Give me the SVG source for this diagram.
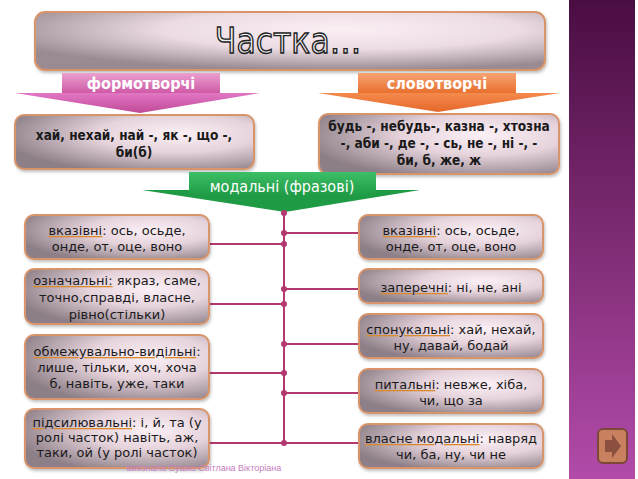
<svg xmlns="http://www.w3.org/2000/svg" width="638" height="479" viewBox="0 0 638 479">
<defs>
<radialGradient id="boxg" cx="0.68" cy="0.35" r="0.75">
<stop offset="0" stop-color="#fbf0f5"/>
<stop offset="0.45" stop-color="#e6d3dc"/>
<stop offset="1" stop-color="#8d7f87"/>
</radialGradient>
<radialGradient id="titleg" cx="0.6" cy="0.3" r="0.7">
<stop offset="0" stop-color="#fbeff4"/>
<stop offset="0.5" stop-color="#ecdbe3"/>
<stop offset="1" stop-color="#9a8b93"/>
</radialGradient>
<linearGradient id="panelg" x1="0" y1="0" x2="0" y2="1">
<stop offset="0" stop-color="#4a0d42"/>
<stop offset="0.5" stop-color="#7e2c74"/>
<stop offset="1" stop-color="#b24baa"/>
</linearGradient>
<linearGradient id="pinkb" x1="0" y1="0" x2="0" y2="1">
<stop offset="0" stop-color="#eaa0cf"/>
<stop offset="1" stop-color="#cf5aa6"/>
</linearGradient>
<linearGradient id="pinkt" x1="0" y1="0" x2="0" y2="1">
<stop offset="0" stop-color="#e277c4"/>
<stop offset="1" stop-color="#c04a98"/>
</linearGradient>
<linearGradient id="orb" x1="0" y1="0" x2="0" y2="1">
<stop offset="0" stop-color="#f7a274"/>
<stop offset="1" stop-color="#e8702e"/>
</linearGradient>
<linearGradient id="ort" x1="0" y1="0" x2="0" y2="1">
<stop offset="0" stop-color="#f48a4c"/>
<stop offset="1" stop-color="#e5672a"/>
</linearGradient>
<linearGradient id="grb" x1="0" y1="0" x2="0" y2="1">
<stop offset="0" stop-color="#3cbf66"/>
<stop offset="1" stop-color="#1f9a45"/>
</linearGradient>
<linearGradient id="titletxt" x1="0" y1="0" x2="0" y2="1">
<stop offset="0" stop-color="#ffffff"/>
<stop offset="1" stop-color="#d8d8d8"/>
</linearGradient>
<filter id="sh" x="-10%" y="-10%" width="120%" height="130%">
<feDropShadow dx="1" dy="2" stdDeviation="1.5" flood-color="#000" flood-opacity="0.25"/>
</filter>
</defs>
<style>
.box{fill:url(#boxg);stroke:#d9946a;stroke-width:2;filter:url(#sh)}
.t{font-family:"DejaVu Sans",Verdana,sans-serif;font-size:13px;fill:#1a1a1a;text-anchor:middle}
.tb{font-family:"DejaVu Sans Condensed","DejaVu Sans",sans-serif;font-size:13.5px;font-weight:bold;fill:#1a1a1a;text-anchor:middle}
.ban{font-family:"DejaVu Sans Condensed","DejaVu Sans",sans-serif;font-size:16px;fill:#ffffff;text-anchor:middle}
.k{text-decoration:underline;fill:#d9892e}
.k tspan{fill:#1a1a1a}
.cn{stroke:#b3386f;stroke-width:2;fill:none}
.dot{fill:#b3386f}
</style>
<rect x="0" y="0" width="638" height="479" fill="#ffffff"/>
<rect x="569" y="0" width="66" height="479" fill="url(#panelg)"/>
<g id="nav">
<rect x="598" y="429" width="29" height="34" rx="5" fill="#c9805e" stroke="#7b4838" stroke-width="2"/>
<path d="M605 440 H612 V434 L621 446 L612 458 V452 H605 Z" fill="#8b5040"/>
</g>

<g id="title">
<rect x="35" y="12" width="510" height="58" rx="10" fill="url(#titleg)" stroke="#d9946a" stroke-width="2" filter="url(#sh)"/>
<text x="288" y="53" font-family="'DejaVu Sans Condensed','DejaVu Sans',sans-serif" font-size="35" text-anchor="middle" fill="url(#titletxt)" stroke="#222" stroke-width="1.3">Частка…</text>
</g>

<g id="formotvorchi">
<polygon points="15,93 260,93 140,113" fill="url(#pinkt)"/>
<rect x="62" y="73" width="158" height="20" fill="url(#pinkb)"/>
<text class="ban" x="141" y="89" font-weight="bold">формотворчі</text>
</g>

<g id="slovotvorchi">
<polygon points="318,93 560,93 438,112" fill="url(#ort)"/>
<rect x="358" y="73" width="158" height="20" fill="url(#orb)"/>
<text class="ban" x="437" y="89" font-weight="bold">словотворчі</text>
</g>

<g id="box-formo">
<rect class="box" x="15" y="115" width="239" height="54" rx="9"/>
<text class="tb" x="134" y="140">хай, нехай, най -, як -, що -,</text>
<text class="tb" x="134" y="157">би(б)</text>
</g>

<g id="box-slovo">
<rect class="box" x="319" y="114" width="240" height="60" rx="9"/>
<text class="tb" x="439" y="131">будь -, небудь-, казна -, хтозна</text>
<text class="tb" x="439" y="148">-, аби -, де -, - сь, не -, ні -, -</text>
<text class="tb" x="439" y="165">би, б, же, ж</text>
</g>

<g id="modalni">
<polygon points="142,190 420,190 285,212" fill="#1f9a45"/>
<rect x="189" y="172" width="187" height="24" fill="url(#grb)"/>
<text class="ban" x="282" y="192">модальні (фразові)</text>
</g>

<g id="connectors">
<path class="cn" d="M284 213 V443"/>
<path class="cn" d="M209 244 H284 M209 304 H284 M209 373 H284 M209 443 H284"/>
<path class="cn" d="M284 233 H359 M284 289 H359 M284 344 H359 M284 393 H359 M284 443 H359"/>
<circle class="dot" cx="284" cy="213" r="3"/>
<circle class="dot" cx="284" cy="233" r="3"/>
<circle class="dot" cx="284" cy="244" r="3"/>
<circle class="dot" cx="284" cy="289" r="3"/>
<circle class="dot" cx="284" cy="304" r="3"/>
<circle class="dot" cx="284" cy="344" r="3"/>
<circle class="dot" cx="284" cy="373" r="3"/>
<circle class="dot" cx="284" cy="393" r="3"/>
<circle class="dot" cx="284" cy="443" r="3"/>
</g>

<g id="l1">
<rect class="box" x="25" y="215" width="184" height="44" rx="9"/>
<text class="t" x="117" y="235"><tspan class="k"><tspan>вказівні</tspan></tspan>: ось, осьде,</text>
<text class="t" x="117" y="251">онде, от, оце, воно</text>
</g>
<g id="l2">
<rect class="box" x="25" y="269" width="184" height="55" rx="9"/>
<text class="t" x="117" y="285"><tspan class="k"><tspan>означальні:</tspan></tspan> якраз, саме,</text>
<text class="t" x="117" y="302">точно,справді, власне,</text>
<text class="t" x="117" y="319">рівно(стільки)</text>
</g>
<g id="l3">
<rect class="box" x="25" y="335" width="184" height="64" rx="9"/>
<text class="t" x="117" y="356"><tspan class="k"><tspan>обмежувально-видільні</tspan></tspan>:</text>
<text class="t" x="117" y="372">лише, тільки, хоч, хоча</text>
<text class="t" x="117" y="388">б, навіть, уже, таки</text>
</g>
<g id="l4">
<rect class="box" x="25" y="409" width="184" height="59" rx="9"/>
<text class="t" x="117" y="427"><tspan class="k"><tspan>підсилювальні</tspan></tspan>: і, й, та (у</text>
<text class="t" x="117" y="442">ролі часток) навіть, аж,</text>
<text class="t" x="117" y="457">таки, ой (у ролі часток)</text>
</g>

<g id="r1">
<rect class="box" x="359" y="215" width="184" height="44" rx="9"/>
<text class="t" x="451" y="235"><tspan class="k"><tspan>вказівні</tspan></tspan>: ось, осьде,</text>
<text class="t" x="451" y="251">онде, от, оце, воно</text>
</g>
<g id="r2">
<rect class="box" x="359" y="269" width="184" height="34" rx="9"/>
<text class="t" x="451" y="292"><tspan class="k"><tspan>заперечні</tspan></tspan>: ні, не, ані</text>
</g>
<g id="r3">
<rect class="box" x="359" y="314" width="184" height="44" rx="9"/>
<text class="t" x="451" y="334"><tspan class="k"><tspan>спонукальні</tspan></tspan>: хай, нехай,</text>
<text class="t" x="451" y="350">ну, давай, бодай</text>
</g>
<g id="r4">
<rect class="box" x="359" y="369" width="184" height="44" rx="9"/>
<text class="t" x="451" y="389"><tspan class="k"><tspan>питальні</tspan></tspan>: невже, хіба,</text>
<text class="t" x="451" y="405">чи, що за</text>
</g>
<g id="r5">
<rect class="box" x="359" y="424" width="184" height="44" rx="9"/>
<text class="t" x="451" y="443"><tspan class="k"><tspan>власне модальні</tspan></tspan>: навряд</text>
<text class="t" x="451" y="459">чи, ба, ну, чи не</text>
</g>

<text x="204" y="471" font-family="'Liberation Sans',Arial,sans-serif" font-size="9" fill="#c77dc0" text-anchor="middle">виконала Сушко Світлана Вікторіана</text>
</svg>
